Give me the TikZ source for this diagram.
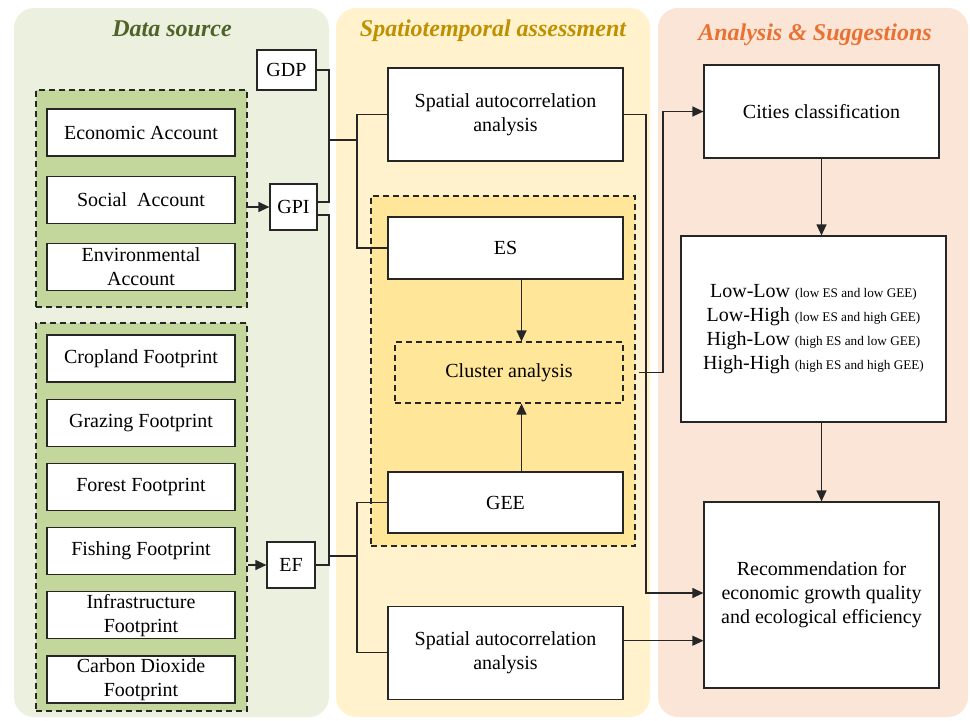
\documentclass[tikz,border=0pt]{standalone}
\usepackage{fontspec}
\setmainfont{Liberation Serif}
\usetikzlibrary{positioning,arrows.meta}
\usepackage{xcolor}

\definecolor{greenpanel}{HTML}{EBF1DE}
\definecolor{greengroup}{HTML}{C3D69B}
\definecolor{greentext}{HTML}{4F6228}
\definecolor{yellowpanel}{HTML}{FFF2CC}
\definecolor{yellowgroup}{HTML}{FFE699}
\definecolor{yellowtext}{HTML}{BF9000}
\definecolor{orangepanel}{HTML}{FBE5D6}
\definecolor{orangetext}{HTML}{E97132}
\definecolor{edgegray}{HTML}{262626}

\newcommand{\classnote}[1]{{\fontsize{6.6}{8}\selectfont #1}}

\begin{document}
\begin{tikzpicture}[
    x=0.5pt, y=-0.5pt,
    panel/.style={rectangle, rounded corners=10pt, inner sep=0pt},
    paneltitle/.style={font=\fontsize{12}{14}\selectfont\bfseries\itshape},
    groupbox/.style={draw=edgegray, rectangle, dash pattern=on 3pt off 2pt, inner sep=0pt, line width=0.6pt, font=\fontsize{10}{12}\selectfont},
    flowblock/.style={draw=edgegray, rectangle, fill=white, align=center, font=\fontsize{10}{12}\selectfont, inner sep=1pt, line width=0.6pt},
    srcblock/.style={flowblock, minimum width=94pt, minimum height=23.5pt},
    idxblock/.style={flowblock, minimum height=23pt},
    stblock/.style={flowblock, minimum width=117.5pt},
    flowline/.style={draw=edgegray, line width=0.6pt},
    flowarrow/.style={flowline, -{Triangle[length=5.5pt,width=5pt]}}
]
  \useasboundingbox (0,0) rectangle (970,720);

  % Panels
  \node (srcpanel) [panel, fill=greenpanel, minimum width=157.5pt, minimum height=354.5pt] at (171.5,362.5) {};
  \node (stpanel) [panel, fill=yellowpanel, minimum width=157pt, minimum height=354.5pt] at (493,362.5) {};
  \node (anapanel) [panel, fill=orangepanel, minimum width=155pt, minimum height=354.5pt] at (813,362.5) {};
  \node (srctitle) [paneltitle, text=greentext] at (172,29) {Data source};
  \node (sttitle) [paneltitle, text=yellowtext] at (493,31) {Spatiotemporal assessment};
  \node (anatitle) [paneltitle, text=orangetext] at (815,35) {Analysis \& Suggestions};

  % Data source
  \node (gdp) [idxblock, minimum width=29.5pt, minimum height=20pt] at (286.5,70) {GDP};
  \node (accgroup) [groupbox, fill=greengroup, minimum width=105.5pt, minimum height=108.5pt] at (141.5,198.5) {};
  \node (econ) [srcblock] at (141,132.5) {Economic Account};
  \node (social) [srcblock, below=9.5pt of econ] {Social\ \ Account};
  \node (envir) [srcblock, below=9.5pt of social] {Environmental\\Account};
  \node (gpi) [idxblock, minimum width=23.5pt] at (293.5,207) {GPI};

  \node (footgroup) [groupbox, fill=greengroup, minimum width=105.5pt, minimum height=194pt] at (141.5,517) {};
  \node (crop) [srcblock] at (141,358.5) {Cropland Footprint};
  \node (graz) [srcblock, below=8pt of crop] {Grazing Footprint};
  \node (forest) [srcblock, below=8pt of graz] {Forest Footprint};
  \node (fish) [srcblock, below=8pt of forest] {Fishing Footprint};
  \node (infra) [srcblock, below=8pt of fish] {Infrastructure\\Footprint};
  \node (carbon) [srcblock, below=8pt of infra] {Carbon Dioxide\\Footprint};
  \node (ef) [idxblock, minimum width=24pt] at (291,565) {EF};

  % Spatiotemporal assessment
  \node (sa1) [stblock, minimum height=46.5pt] at (505.5,114.5) {Spatial autocorrelation\\analysis};
  \node (clustgroup) [groupbox, fill=yellowgroup, minimum width=132pt, minimum height=175pt] at (503,371) {};
  \node (es) [stblock, minimum height=31pt] at (505.5,248) {ES};
  \node (cluster) [groupbox, minimum width=114pt, minimum height=30.5pt] at (509,372.5) {Cluster analysis};
  \node (gee) [stblock, minimum height=30.5pt] at (505.5,502.5) {GEE};
  \node (sa2) [stblock, minimum height=46.5pt, below=36pt of gee] {Spatial autocorrelation\\analysis};

  % Analysis & Suggestions
  \node (cities) [stblock, minimum height=46.5pt] at (821.5,111.5) {Cities classification};
  \node (classes) [flowblock, minimum width=132.5pt, minimum height=93pt] at (813.5,329)
    {Low-Low \classnote{(low ES and low GEE)}\\
     Low-High \classnote{(low ES and high GEE)}\\
     High-Low \classnote{(high ES and low GEE)}\\
     High-High \classnote{(high ES and high GEE)}};
  \node (recom) [stblock, minimum height=93pt] at (821.5,595) {Recommendation for\\economic growth quality\\and ecological efficiency};

  % Junctions
  \coordinate (jA) at (329,140);
  \coordinate (jB) at (357,140);
  \coordinate (jC) at (329,556);
  \coordinate (jD) at (357,556);
  \coordinate (jE) at (646,593);
  \coordinate (jF) at (663,375);
  \coordinate (esout) at ([xshift=8pt]es.south);
  \coordinate (clustout) at (clustgroup.east |- cluster.east);
  \coordinate (sa2out) at ([yshift=6pt]sa2.east);

  % Connectors
  \draw [flowarrow] (accgroup.east |- gpi.west) -- (gpi.west);
  \draw [flowarrow] (footgroup.east |- ef.west) -- (ef.west);
  \draw [flowline] (gdp.east) -| (jA) |- ([yshift=2.5pt]gpi.east);
  \draw [flowline] (jA) -- (jB);
  \draw [flowline] (sa1.west) -| (jB) |- (es.west);
  \draw [flowline] ([yshift=-4pt]gpi.east) -| (jC |- ef.east) -- (ef.east);
  \draw [flowline] (jC) -- (jD);
  \draw [flowline] (gee.west) -| (jD) |- (sa2.west);
  \draw [flowarrow] (esout) -- (esout |- cluster.north);
  \draw [flowarrow] (esout |- gee.north) -- (esout |- cluster.south);
  \draw [flowarrow] (sa1.east) -| (jE) -- (jE -| recom.west);
  \draw [flowarrow] ([xshift=1.5pt]clustout) -- (jF |- clustout) |- (cities.west);
  \draw [flowarrow] (sa2out) -- (sa2out -| recom.west);
  \draw [flowarrow] (cities.south) -- (cities.south |- classes.north);
  \draw [flowarrow] (recom.north |- classes.south) -- (recom.north);
\end{tikzpicture}
\end{document}
